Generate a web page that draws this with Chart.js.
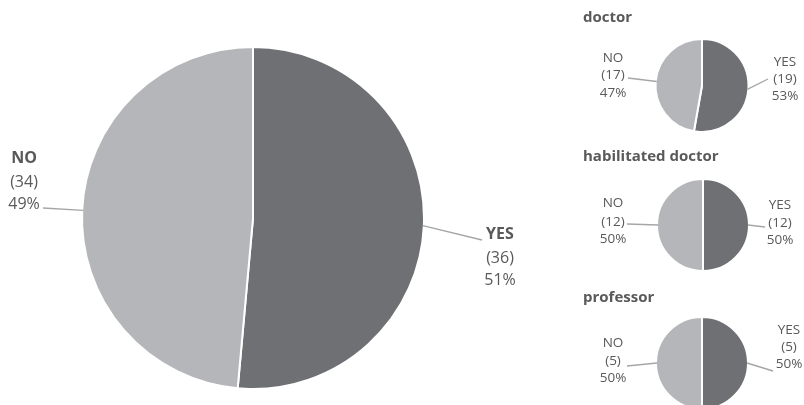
<!DOCTYPE html>
<html>
<head>
<meta charset="utf-8">
<script src="https://cdn.jsdelivr.net/npm/chart.js@4/dist/chart.umd.min.js"></script>
<style>
    html, body { margin: 0; padding: 0; background: #fff; overflow: hidden; }
    #wrap { position: relative; width: 804px; height: 405px; overflow: hidden; }
    #wrap canvas { position: absolute; left: 0; top: 0; }
</style>
</head>
<body>
<div id="wrap">
    <canvas id="allChart" width="804" height="420"></canvas>
    <canvas id="doctorChart" width="804" height="420"></canvas>
    <canvas id="habilitatedChart" width="804" height="420"></canvas>
    <canvas id="professorChart" width="804" height="420"></canvas>
</div>
<script>
// Answers and counts per group
const answers = ['YES', 'NO'];
const allCounts = [36, 34];
const doctorCounts = [19, 17];
const habilitatedCounts = [12, 12];
const professorCounts = [5, 5];
const groupTitles = ['doctor', 'habilitated doctor', 'professor'];

const sliceColors = ['#6f7074', '#b5b6b9'];
const textColor = '#595959';
const lineColor = '#a6a6a6';
const fontFamily = '"Open Sans", Lato, sans-serif';
const W = 804, H = 420;

// Draws the title, the YES/NO labels and the leader lines for each pie
const pieLabels = {
    id: 'pieLabels',
    afterDatasetsDraw(chart, args, opts) {
        const ctx = chart.ctx;
        const meta = chart.getDatasetMeta(0);
        const data = chart.data.datasets[0].data;
        const total = data.reduce((a, b) => a + b, 0);
        ctx.save();
        if (opts.title) {
            ctx.font = `bold ${opts.titleSize}px ${fontFamily}`;
            ctx.fillStyle = textColor;
            ctx.textAlign = 'left';
            ctx.textBaseline = 'middle';
            ctx.fillText(opts.title, opts.titleX, opts.titleY);
        }
        meta.data.forEach((arc, i) => {
            const pos = opts.labels[i];
            const p = arc.getProps(['x', 'y', 'startAngle', 'endAngle', 'outerRadius'], true);
            const mid = (p.startAngle + p.endAngle) / 2;
            const r = p.outerRadius - 1;
            ctx.strokeStyle = lineColor;
            ctx.lineWidth = 1.4;
            ctx.beginPath();
            ctx.moveTo(p.x + Math.cos(mid) * r, p.y + Math.sin(mid) * r);
            ctx.lineTo(pos.lineX, pos.lineY);
            ctx.stroke();

            const lines = [chart.data.labels[i], `(${data[i]})`, `${Math.round(data[i] / total * 100)}%`];
            ctx.fillStyle = textColor;
            ctx.textAlign = 'center';
            ctx.textBaseline = 'middle';
            lines.forEach((t, k) => {
                ctx.font = `${k === 0 && opts.boldFirst ? 'bold ' : ''}${opts.size}px ${fontFamily}`;
                ctx.fillText(t, pos.x, pos.ys[k]);
            });
        });
        ctx.restore();
    }
};

function makePie(id, counts, cx, cy, radius, labelOpts) {
    const half = radius + 2;
    return new Chart(document.getElementById(id), {
        type: 'pie',
        data: {
            labels: answers,
            datasets: [{
                data: counts,
                backgroundColor: sliceColors,
                borderColor: '#ffffff',
                borderWidth: 2
            }]
        },
        options: {
            responsive: false,
            animation: false,
            layout: {
                padding: {
                    left: cx - half,
                    top: cy - half,
                    right: W - (cx + half),
                    bottom: H - (cy + half)
                }
            },
            plugins: {
                legend: { display: false },
                tooltip: { enabled: false },
                pieLabels: labelOpts
            }
        },
        plugins: [pieLabels]
    });
}

makePie('allChart', allCounts, 253, 218, 170, {
    size: 16,
    boldFirst: true,
    labels: [
        { x: 500, ys: [234, 258, 280], lineX: 482, lineY: 240 },
        { x: 24, ys: [158, 182, 204], lineX: 43, lineY: 208 }
    ]
});

makePie('doctorChart', doctorCounts, 702, 85.5, 45.5, {
    size: 13.5,
    title: groupTitles[0], titleSize: 15, titleX: 583, titleY: 18,
    labels: [
        { x: 785, ys: [62, 79, 96], lineX: 768, lineY: 79 },
        { x: 613, ys: [58, 75.5, 93], lineX: 628, lineY: 78 }
    ]
});

makePie('habilitatedChart', habilitatedCounts, 703, 225, 45, {
    size: 13.5,
    title: groupTitles[1], titleSize: 15, titleX: 583, titleY: 157,
    labels: [
        { x: 780, ys: [205, 223, 240], lineX: 765, lineY: 227 },
        { x: 613, ys: [203, 222, 239], lineX: 627, lineY: 224 }
    ]
});

makePie('professorChart', professorCounts, 702, 363, 45, {
    size: 13.5,
    title: groupTitles[2], titleSize: 15, titleX: 583, titleY: 298,
    labels: [
        { x: 789, ys: [330, 347, 364], lineX: 773, lineY: 371 },
        { x: 613, ys: [343, 361, 378], lineX: 627, lineY: 366 }
    ]
});
</script>
</body>
</html>
